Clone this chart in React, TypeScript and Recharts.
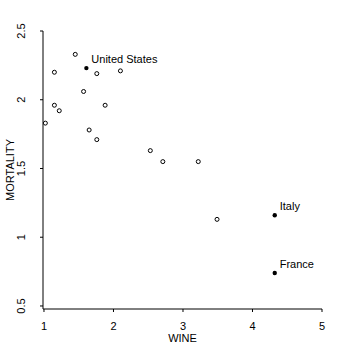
import { ScatterChart, Scatter, XAxis, YAxis, Label } from "recharts";

// Unlabelled countries (open circles)
const otherWine = [1.45, 1.15, 1.76, 2.1, 1.57, 1.15, 1.22, 1.88, 1.02, 1.65, 1.76, 2.53, 2.71, 3.22, 3.49];
const otherMortality = [2.33, 2.2, 2.19, 2.21, 2.06, 1.96, 1.92, 1.96, 1.83, 1.78, 1.71, 1.63, 1.55, 1.55, 1.13];

// Labelled countries (filled points)
const namedCountries = ["United States", "Italy", "France"];
const namedWine = [1.61, 4.32, 4.32];
const namedMortality = [2.23, 1.16, 0.74];

const xTicks = [1, 2, 3, 4, 5];
const yTicks = [0.5, 1, 1.5, 2, 2.5];

const otherData = otherWine.map((w, i) => ({ wine: w, mortality: otherMortality[i] }));
const namedData = namedCountries.map((name, i) => ({
  name,
  wine: namedWine[i],
  mortality: namedMortality[i],
}));

const FONT = "'Liberation Sans', Arial, sans-serif";

const YTick = (props: any) => {
  const { x, y, payload } = props;
  const tx = x - 13;
  return (
    <text
      x={tx}
      y={y}
      transform={`rotate(-90 ${tx} ${y})`}
      textAnchor="middle"
      fontSize={11}
      fontFamily={FONT}
      fill="#000"
    >
      {payload.value}
    </text>
  );
};

const XTick = (props: any) => {
  const { x, y, payload } = props;
  return (
    <text x={x} y={y + 16} textAnchor="middle" fontSize={11} fontFamily={FONT} fill="#000">
      {payload.value}
    </text>
  );
};

const OpenDot = (props: any) => (
  <circle cx={props.cx} cy={props.cy} r={2} fill="#fff" stroke="#000" strokeWidth={1} />
);

const NamedDot = (props: any) => (
  <g>
    <circle cx={props.cx} cy={props.cy} r={2.2} fill="#000" />
    <text
      x={props.cx + 5}
      y={props.cy - 5}
      fontSize={11}
      fontFamily={FONT}
      fill="#000"
    >
      {props.payload.name}
    </text>
  </g>
);

export default function App() {
  return (
    <div style={{ position: "absolute", left: 0, top: 0, background: "#fff" }}>
      <ScatterChart width={352} height={351} margin={{ top: 31, right: 30, left: 0, bottom: 0 }}>
        <XAxis
          type="number"
          dataKey="wine"
          domain={[0.986, 5]}
          ticks={xTicks}
          allowDataOverflow
          height={42}
          stroke="#000"
          tickSize={3}
          tickLine={{ stroke: "#000" }}
          tick={<XTick />}
        >
          <Label
            value="WINE"
            position="insideBottom"
            offset={9}
            style={{ fontSize: 11, fontFamily: FONT, fill: "#000" }}
          />
        </XAxis>
        <YAxis
          type="number"
          dataKey="mortality"
          domain={[0.478, 2.5]}
          ticks={yTicks}
          allowDataOverflow
          width={43}
          stroke="#000"
          tickSize={3}
          tickLine={{ stroke: "#000" }}
          tick={<YTick />}
        >
          <Label
            value="MORTALITY"
            angle={-90}
            position="insideLeft"
            offset={10}
            style={{ fontSize: 11, fontFamily: FONT, fill: "#000", textAnchor: "middle" }}
          />
        </YAxis>
        <Scatter data={otherData} shape={<OpenDot />} isAnimationActive={false} />
        <Scatter data={namedData} shape={<NamedDot />} isAnimationActive={false} />
      </ScatterChart>
    </div>
  );
}
